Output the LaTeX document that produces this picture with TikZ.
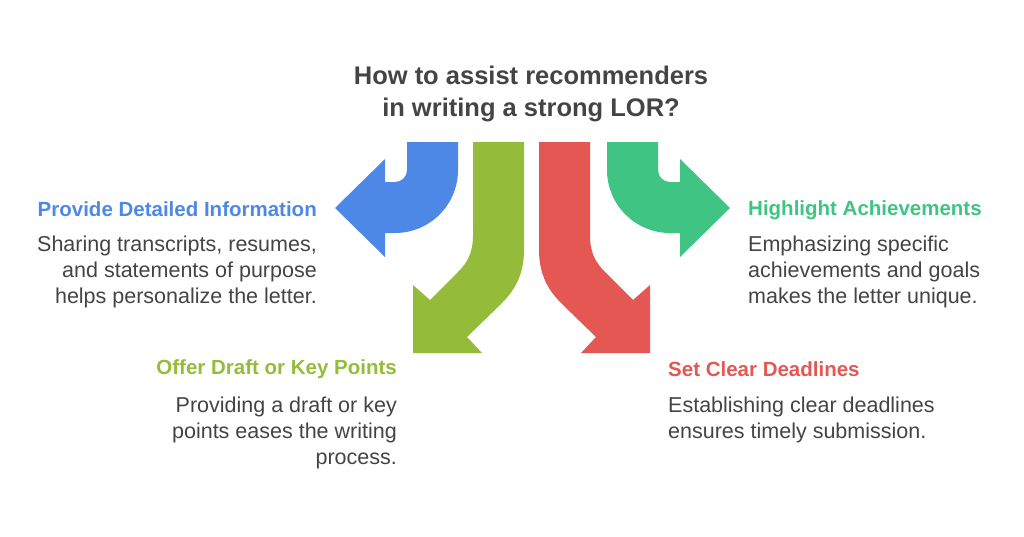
\documentclass[tikz,border=0pt]{standalone}
\usepackage{fontspec}
\setmainfont{Liberation Sans}
\definecolor{cblue}{HTML}{4E88E6}
\definecolor{cgreen}{HTML}{3FC483}
\definecolor{colive}{HTML}{94BC3A}
\definecolor{cred}{HTML}{E55753}
\definecolor{ctext}{HTML}{444444}
\begin{document}
\begin{tikzpicture}[x=1pt,y=-1pt,
  head/.style={font=\fontsize{20.5}{24}\selectfont\bfseries,inner sep=0pt},
  body/.style={font=\fontsize{21.5}{26}\selectfont,text=ctext,inner sep=0pt}]
\useasboundingbox (0,0) rectangle (1024,536);
\node[font=\fontsize{25.5}{32}\selectfont\bfseries,text=ctext,align=center] (title) at (531,94) {How to assist recommenders\\in writing a strong LOR?};
% blue
\fill[cblue] (407,142) -- (458,142) -- (458,170) arc[start angle=0,end angle=90,radius=63] -- (385,233) -- (385,257) -- (335,208) -- (385,159) -- (385,182) -- (395,182) arc[start angle=90,end angle=0,radius=12] -- cycle;
% green
\fill[cgreen] (658,142) -- (607,142) -- (607,170) arc[start angle=180,end angle=90,radius=63] -- (680,233) -- (680,257) -- (730,208) -- (680,159) -- (680,182) -- (670,182) arc[start angle=90,end angle=180,radius=12] -- cycle;
% olive
\fill[colive] (473,142) -- (524,142) -- (524,250) .. controls (524,280) and (510,295) .. (500,305) -- (467,337) -- (482,353) -- (413,353) -- (413,285) -- (430,300) -- (458,272) .. controls (468,262) and (473,252) .. (473,235) -- cycle;
% red
\fill[cred] (590,142) -- (539,142) -- (539,250) .. controls (539,280) and (553,295) .. (563,305) -- (596,337) -- (581,353) -- (650,353) -- (650,285) -- (633,300) -- (605,272) .. controls (595,262) and (590,252) .. (590,235) -- cycle;
% texts
\node[head,text=cblue,anchor=east] (h1) at (317,209) {Provide Detailed Information};
\node[body,align=right,anchor=north east] (b1) at (317,236) {Sharing transcripts, resumes,\\and statements of purpose\\helps personalize the letter.};
\node[head,text=cgreen,anchor=west] (h2) at (748,210) {Highlight Achievements};
\node[body,align=left,anchor=north west] (b2) at (748,236) {Emphasizing specific\\achievements and goals\\makes the letter unique.};
\node[head,text=colive,anchor=east] (h3) at (397,369) {Offer Draft or Key Points};
\node[body,align=right,anchor=north east] (b3) at (397,397) {Providing a draft or key\\points eases the writing\\process.};
\node[head,text=cred,anchor=west] (h4) at (668,369) {Set Clear Deadlines};
\node[body,align=left,anchor=north west] (b4) at (668,397) {Establishing clear deadlines\\ensures timely submission.};
\end{tikzpicture}
\end{document}
